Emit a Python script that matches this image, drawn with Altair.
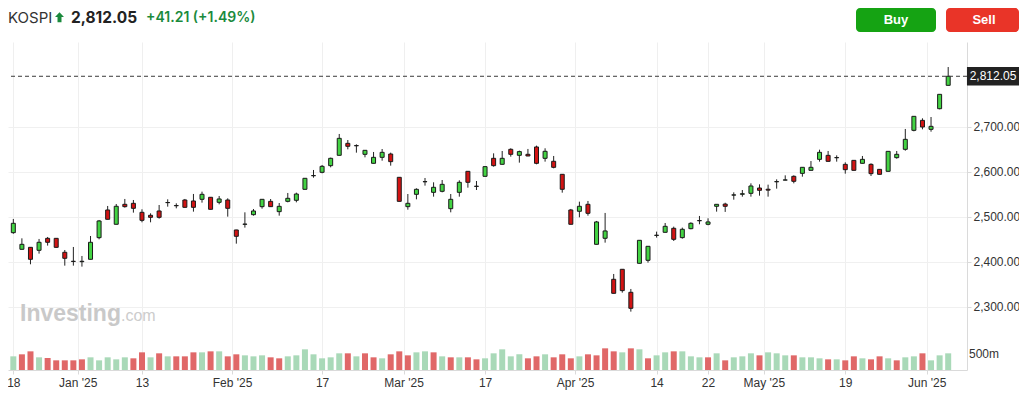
import altair as alt
import pandas as pd

# ---------------- data ----------------
dates = [
    "2024-12-18", "2024-12-19", "2024-12-20", "2024-12-23", "2024-12-24", "2024-12-26", "2024-12-27", "2024-12-30",
    "2025-01-02", "2025-01-03", "2025-01-06", "2025-01-07", "2025-01-08", "2025-01-09", "2025-01-10", "2025-01-13",
    "2025-01-14", "2025-01-15", "2025-01-16", "2025-01-17", "2025-01-20", "2025-01-21", "2025-01-22", "2025-01-23",
    "2025-01-24", "2025-01-31",
    "2025-02-03", "2025-02-04", "2025-02-05", "2025-02-06", "2025-02-07", "2025-02-10", "2025-02-11", "2025-02-12",
    "2025-02-13", "2025-02-14", "2025-02-17", "2025-02-18", "2025-02-19", "2025-02-20", "2025-02-21", "2025-02-24",
    "2025-02-25", "2025-02-26", "2025-02-27", "2025-02-28",
    "2025-03-04", "2025-03-05", "2025-03-06", "2025-03-07", "2025-03-10", "2025-03-11", "2025-03-12", "2025-03-13",
    "2025-03-14", "2025-03-17", "2025-03-18", "2025-03-19", "2025-03-20", "2025-03-21", "2025-03-24", "2025-03-25",
    "2025-03-26", "2025-03-27", "2025-03-28", "2025-03-31",
    "2025-04-01", "2025-04-02", "2025-04-03", "2025-04-04", "2025-04-07", "2025-04-08", "2025-04-09", "2025-04-10",
    "2025-04-11", "2025-04-14", "2025-04-15", "2025-04-16", "2025-04-17", "2025-04-18", "2025-04-21", "2025-04-22",
    "2025-04-23", "2025-04-24", "2025-04-25", "2025-04-28", "2025-04-29", "2025-04-30",
    "2025-05-02", "2025-05-07", "2025-05-08", "2025-05-09", "2025-05-12", "2025-05-13", "2025-05-14", "2025-05-15",
    "2025-05-16", "2025-05-19", "2025-05-20", "2025-05-21", "2025-05-22", "2025-05-23", "2025-05-26", "2025-05-27",
    "2025-05-28", "2025-05-29", "2025-05-30",
    "2025-06-02", "2025-06-04", "2025-06-05",
]

opens = [
    2464.5, 2427.5, 2431.9, 2425.3, 2451.9, 2451.9, 2420.9, 2400.9, 2400.0, 2405.3,
    2453.4, 2514.9, 2483.1, 2527.5, 2529.7, 2509.7, 2503.1, 2512.7, 2531.2, 2524.8,
    2537.1, 2534.9, 2538.6, 2543.1, 2531.9, 2537.1, 2470.5, 2483.1, 2504.5, 2522.3,
    2534.1, 2511.2, 2534.1, 2536.4, 2560.8, 2591.0, 2598.6, 2613.4, 2636.4, 2663.0,
    2658.0, 2638.6, 2618.6, 2631.9, 2639.3, 2587.5, 2522.3, 2549.7, 2577.6, 2554.1,
    2556.4, 2517.8, 2554.1, 2600.8, 2567.7, 2589.7, 2629.7, 2616.4, 2649.7, 2636.4,
    2638.6, 2654.9, 2629.7, 2623.1, 2594.2, 2514.9, 2512.0, 2527.5, 2438.6, 2452.0,
    2360.9, 2383.1, 2332.0, 2396.4, 2403.1, 2458.4, 2465.3, 2474.2, 2453.5, 2473.4,
    2491.0, 2483.1, 2523.1, 2528.0, 2548.0, 2549.8, 2551.9, 2563.7, 2561.0, 2577.6,
    2581.3, 2589.7, 2596.3, 2603.0, 2627.4, 2636.3, 2631.0, 2616.3, 2625.2, 2618.6,
    2616.3, 2605.2, 2600.8, 2631.2, 2649.7, 2691.9, 2714.1, 2694.1, 2740.0, 2791.9,
]
highs = [
    2494.9, 2451.9, 2432.5, 2450.5, 2454.9, 2452.5, 2426.0, 2432.7, 2412.7, 2457.1,
    2492.7, 2523.8, 2528.2, 2539.4, 2537.1, 2516.4, 2507.5, 2526.0, 2538.6, 2529.7,
    2539.4, 2550.5, 2555.6, 2543.5, 2546.0, 2540.8, 2470.8, 2509.7, 2517.1, 2539.0,
    2539.3, 2530.4, 2552.7, 2553.4, 2585.5, 2603.8, 2614.9, 2631.2, 2683.8, 2670.4,
    2660.8, 2647.8, 2643.8, 2650.4, 2642.3, 2587.8, 2550.4, 2563.0, 2586.0, 2576.4,
    2581.5, 2550.4, 2580.8, 2601.0, 2579.3, 2612.0, 2640.8, 2646.0, 2652.0, 2646.8,
    2650.5, 2657.9, 2652.0, 2634.9, 2594.5, 2517.2, 2533.4, 2534.9, 2490.5, 2508.3,
    2372.7, 2383.3, 2339.4, 2447.7, 2434.4, 2466.8, 2486.0, 2477.9, 2475.7, 2487.5,
    2501.6, 2496.4, 2527.7, 2531.0, 2554.1, 2559.3, 2574.1, 2571.9, 2571.2, 2583.0,
    2591.9, 2591.9, 2609.9, 2623.7, 2648.9, 2646.0, 2636.3, 2620.8, 2625.4, 2634.9,
    2618.6, 2605.4, 2645.4, 2646.0, 2694.9, 2723.2, 2718.6, 2721.5, 2772.1, 2832.6,
]
lows = [
    2462.0, 2427.0, 2394.2, 2417.9, 2435.7, 2431.0, 2391.2, 2391.2, 2389.0, 2405.0,
    2449.7, 2494.0, 2483.0, 2520.1, 2509.0, 2487.5, 2487.5, 2495.6, 2522.3, 2518.6,
    2520.0, 2511.2, 2531.2, 2516.0, 2527.5, 2500.1, 2440.1, 2475.7, 2502.3, 2517.8,
    2522.0, 2502.3, 2531.9, 2531.9, 2560.5, 2586.7, 2596.4, 2609.7, 2636.0, 2649.7,
    2642.3, 2631.9, 2618.3, 2624.5, 2613.4, 2534.0, 2515.6, 2538.6, 2569.0, 2544.5,
    2554.1, 2509.7, 2544.5, 2564.5, 2559.3, 2589.5, 2611.2, 2616.0, 2633.4, 2620.1,
    2634.5, 2616.4, 2622.3, 2607.5, 2553.4, 2483.0, 2498.6, 2502.3, 2438.3, 2442.3,
    2329.5, 2331.2, 2289.0, 2396.2, 2397.9, 2453.5, 2465.0, 2446.0, 2451.2, 2472.0,
    2483.1, 2480.9, 2511.2, 2510.6, 2537.8, 2544.5, 2544.5, 2546.7, 2544.5, 2562.3,
    2581.0, 2574.1, 2588.9, 2602.8, 2622.3, 2622.8, 2622.3, 2595.6, 2602.8, 2618.4,
    2590.4, 2593.9, 2600.6, 2628.9, 2646.7, 2689.7, 2694.1, 2688.9, 2738.6, 2791.7,
]
closes = [
    2485.3, 2438.6, 2405.3, 2443.1, 2443.1, 2431.9, 2407.5, 2400.5, 2400.9, 2443.1,
    2490.5, 2494.2, 2523.1, 2522.3, 2518.6, 2491.9, 2498.6, 2498.6, 2531.5, 2524.3,
    2520.8, 2520.8, 2549.7, 2516.4, 2539.4, 2518.6, 2456.4, 2483.5, 2512.7, 2538.6,
    2522.3, 2523.0, 2540.8, 2550.4, 2585.3, 2591.4, 2611.9, 2629.7, 2674.1, 2656.4,
    2657.6, 2647.5, 2631.9, 2643.0, 2622.3, 2534.1, 2529.7, 2560.8, 2578.0, 2565.3,
    2571.9, 2538.6, 2576.4, 2576.4, 2567.3, 2611.2, 2613.4, 2629.7, 2638.6, 2644.6,
    2634.9, 2618.6, 2645.3, 2609.7, 2560.9, 2483.1, 2523.1, 2507.5, 2488.3, 2468.3,
    2329.7, 2335.7, 2296.4, 2447.5, 2434.2, 2458.8, 2478.6, 2449.7, 2472.0, 2485.3,
    2491.4, 2488.3, 2527.5, 2523.1, 2548.4, 2551.0, 2568.2, 2558.6, 2559.0, 2578.0,
    2581.7, 2578.6, 2609.7, 2609.7, 2643.0, 2623.0, 2631.4, 2604.5, 2603.0, 2627.4,
    2595.6, 2594.1, 2645.2, 2638.6, 2671.9, 2723.0, 2699.3, 2700.8, 2771.9, 2812.05,
]
# volume in millions of shares
volumes = [
    427, 490, 583, 396, 375, 302, 302, 302, 333, 396,
    302, 396, 333, 396, 365, 552, 396, 521, 427, 427,
    427, 552, 552, 583, 583, 427, 490, 458, 427, 458,
    396, 365, 427, 458, 646, 490, 365, 396, 521, 521,
    427, 521, 396, 365, 490, 583, 458, 552, 583, 552,
    427, 396, 396, 396, 333, 365, 521, 646, 427, 490,
    365, 427, 490, 396, 490, 365, 427, 490, 458, 677,
    583, 552, 677, 646, 365, 458, 552, 583, 583, 427,
    396, 396, 521, 302, 396, 427, 521, 458, 552, 521,
    458, 458, 396, 396, 365, 333, 333, 302, 427, 365,
    333, 427, 365, 302, 396, 427, 521, 302, 458, 521,
]
# volume bar colour: u = close above previous close, d = below
vol_dir = [
    "u", "d", "d", "u", "d", "d", "d", "d", "d", "u",
    "u", "u", "u", "u", "d", "d", "u", "d", "u", "d",
    "d", "d", "u", "d", "u", "d", "d", "u", "u", "u",
    "d", "d", "u", "u", "u", "u", "u", "u", "u", "d",
    "u", "d", "d", "u", "d", "d", "d", "u", "u", "d",
    "u", "d", "u", "d", "d", "u", "u", "u", "u", "u",
    "d", "d", "u", "d", "d", "d", "u", "d", "d", "d",
    "d", "u", "d", "u", "d", "u", "u", "d", "u", "u",
    "u", "d", "u", "d", "u", "u", "u", "d", "u", "u",
    "u", "d", "u", "u", "u", "d", "u", "d", "d", "u",
    "d", "d", "u", "d", "u", "u", "d", "u", "u", "u",
]

tick_pos = [0, 7.5, 15, 25.5, 36, 45.5, 55, 65.5, 75, 81, 87.5, 97, 106.5]
tick_text = ["18", "Jan '25", "13", "Feb '25", "17", "Mar '25", "17", "Apr '25",
             "14", "22", "May '25", "19", "Jun '25"]
price_ticks = [2300, 2400, 2500, 2600, 2700]

last_price = 2812.05
change = 41.21
change_pct = 1.49

# ---------------- table ----------------
df = pd.DataFrame({
    "idx": list(range(len(dates))),
    "date": dates,
    "open": opens,
    "high": highs,
    "low": lows,
    "close": closes,
    "volume": volumes,
    "vdir": vol_dir,
})

FONT = "Liberation Sans"
GREEN = "#43d343"
RED = "#d21313"
VGREEN = "#a9d9b8"
VRED = "#e06868"

label_expr = ""
for p, t in zip(tick_pos, tick_text):
    label_expr += f'datum.value == {p} ? "{t}" : '
label_expr += '""'

xscale = alt.Scale(domain=[-0.038, 110.61], nice=False, zero=False)
xaxis = alt.Axis(values=tick_pos, labelExpr=label_expr, title=None, grid=True,
                 gridColor="#efefef", domainColor="#dadada", tickColor="#dadada",
                 tickSize=4, labelColor="#333333", labelFontSize=12, labelFont=FONT,
                 labelPadding=3, labelFlush=2)
X = alt.X("idx:Q", scale=xscale, axis=xaxis)

pscale = alt.Scale(domain=[2159.3, 2888.2], nice=False, zero=False)
paxis = alt.Axis(orient="right", values=price_ticks, format=",.2f", title=None,
                 grid=True, gridColor="#f0f0f0", domainColor="#dadada",
                 tickColor="#dadada", tickSize=4, labelColor="#333333",
                 labelFontSize=12, labelFont=FONT, labelPadding=2)
vscale = alt.Scale(domain=[0, 10250], nice=False, zero=True)

base = alt.Chart(df)

# volume
vol_bars = base.mark_bar(size=6).encode(
    x=X,
    y=alt.Y("volume:Q", scale=vscale, axis=None),
    fill=alt.condition("datum.vdir == 'u'", alt.value(VGREEN), alt.value(VRED)),
)
vol_label = alt.Chart(pd.DataFrame({"v": [500], "t": ["500m"]})).mark_text(
    align="left", baseline="middle", fontSize=12, font=FONT, color="#333333"
).encode(x=alt.value(961), y=alt.Y("v:Q", scale=vscale, axis=None), text="t:N")
vol_layer = alt.layer(vol_bars, vol_label)

# watermark
wm = alt.Chart(pd.DataFrame({"a": [0]}))
wm1 = wm.mark_text(text="Investing", align="left", baseline="alphabetic", fontSize=23,
                   fontWeight="bold", font=FONT, color="#c9c9c9").encode(
    x=alt.value(12), y=alt.value(279))
wm2 = wm.mark_text(text=".com", align="left", baseline="alphabetic", fontSize=16,
                   font=FONT, color="#cccccc").encode(x=alt.value(113), y=alt.value(279))

# candles
wicks = base.mark_rule(color="#222222", strokeWidth=1).encode(
    x=X, y=alt.Y("low:Q", scale=pscale, axis=paxis), y2="high:Q")
bodies = base.mark_bar(size=4, stroke="#1a1a1a", strokeWidth=1).encode(
    x=X,
    y=alt.Y("open:Q", scale=pscale, axis=paxis),
    y2="close:Q",
    fill=alt.condition("datum.close >= datum.open", alt.value(GREEN), alt.value(RED)),
    tooltip=["date:N", "open:Q", "high:Q", "low:Q", "close:Q"],
)
last = pd.DataFrame({"p": [last_price], "t": [f"{last_price:,.2f}"]})
last_line = alt.Chart(last).mark_rule(color="#3a3a3a", strokeWidth=1, strokeDash=[4, 3]).encode(
    y=alt.Y("p:Q", scale=pscale, axis=paxis))
box_shape = "M-2.8,-1 L2.8,-1 L2.8,1 L-2.8,1 Z"
last_box = alt.Chart(last).mark_point(shape=box_shape, filled=True, size=346,
                                      color="#222222", opacity=1).encode(
    x=alt.value(985), y=alt.Y("p:Q", scale=pscale, axis=paxis))
last_text = alt.Chart(last).mark_text(align="center", baseline="middle", fontSize=12,
                                      font=FONT, color="white").encode(
    x=alt.value(985), y=alt.Y("p:Q", scale=pscale, axis=paxis), text="t:N")
price_layer = alt.layer(wicks, bodies, last_line, last_box, last_text)

# header
HY = -24.5
hd = alt.Chart(pd.DataFrame({"a": [0]}))
h_name = hd.mark_text(text="KOSPI", align="left", baseline="middle", fontSize=15,
                      font="Inter", color="#333333").encode(x=alt.value(0), y=alt.value(HY))
arrow = "M0,-1 L0.85,-0.1 L0.38,-0.1 L0.38,0.9 L-0.38,0.9 L-0.38,-0.1 L-0.85,-0.1 Z"
h_arrow = hd.mark_point(shape=arrow, filled=True, size=110, color="#1a8a3c", opacity=1).encode(
    x=alt.value(51.5), y=alt.value(HY))
h_price = hd.mark_text(text=f"{last_price:,.2f}", align="left", baseline="middle", fontSize=15.5,
                       fontWeight="bold", font="Inter", color="#222222").encode(
    x=alt.value(63), y=alt.value(HY))
h_change = hd.mark_text(text=f"+{change:.2f} (+{change_pct:.2f}%)", align="left",
                        baseline="middle", fontSize=14, fontWeight=600, font="Inter",
                        color="#1a8a3c").encode(x=alt.value(138), y=alt.value(HY))
buy_btn = hd.mark_rect(color="#15a313", cornerRadius=4).encode(
    x=alt.value(848), x2=alt.value(928), y=alt.value(-34), y2=alt.value(-10))
buy_txt = hd.mark_text(text="Buy", align="center", baseline="middle", fontSize=13,
                       fontWeight="bold", font=FONT, color="white").encode(
    x=alt.value(888), y=alt.value(-22))
sell_btn = hd.mark_rect(color="#e93428", cornerRadius=4).encode(
    x=alt.value(938), x2=alt.value(1011), y=alt.value(-34), y2=alt.value(-10))
sell_txt = hd.mark_text(text="Sell", align="center", baseline="middle", fontSize=13,
                        fontWeight="bold", font=FONT, color="white").encode(
    x=alt.value(976), y=alt.value(-22))
header = alt.layer(h_name, h_arrow, h_price, h_change, buy_btn, buy_txt, sell_btn, sell_txt)

chart = alt.layer(
    alt.layer(wm1, wm2), vol_layer, price_layer, header
).resolve_scale(y="independent").properties(
    width=959,
    height=328,
    padding={"left": 0, "top": 34, "right": 52, "bottom": 20},
    autosize=alt.AutoSizeParams(type="none"),
    background="white",
).configure_view(stroke=None)

chart.save("out.html", embed_options={"renderer": "svg", "actions": False})
